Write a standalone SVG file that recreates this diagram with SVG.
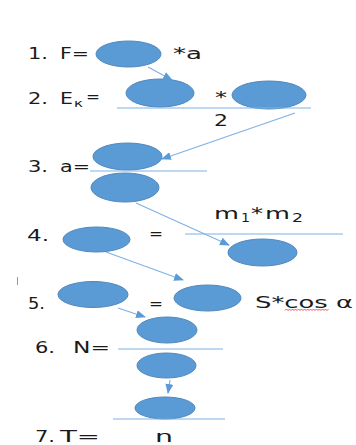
<svg xmlns="http://www.w3.org/2000/svg" width="356" height="445" viewBox="0 0 356 445">
<style>
.t{font-family:"DejaVu Sans",Verdana,sans-serif;font-size:15px;fill:#1a1a1a}
.s{font-size:11px}
.e{fill:#5B9BD5;stroke:#4F88BE;stroke-width:1}
.l{stroke:#7FB2E5;stroke-width:1.2;fill:none}
.a{stroke:#7FB2E5;stroke-width:1.2;fill:none;marker-end:url(#ah)}
</style>
<defs>
<marker id="ah" markerWidth="10" markerHeight="8" refX="9" refY="4" orient="auto" markerUnits="userSpaceOnUse">
<path d="M0,0 L10,4 L0,8 z" fill="#5B9BD5"/>
</marker>
</defs>
<rect width="356" height="445" fill="#fff"/>

<g id="row1">
<text class="t" x="28" y="59" textLength="20" lengthAdjust="spacingAndGlyphs">1.</text>
<text class="t" x="60" y="59" textLength="29" lengthAdjust="spacingAndGlyphs">F=</text>
<ellipse id="n1" class="e" cx="128.5" cy="54" rx="32.5" ry="13"/>
<text class="t" x="173" y="59" textLength="29" lengthAdjust="spacingAndGlyphs">*a</text>
</g>

<g id="row2">
<text class="t" x="28" y="104" textLength="20" lengthAdjust="spacingAndGlyphs">2.</text>
<text class="t" x="60" y="104" textLength="13" lengthAdjust="spacingAndGlyphs">E</text>
<text class="t s" x="74" y="107" textLength="9" lengthAdjust="spacingAndGlyphs">к</text>
<text class="t" x="86" y="102" textLength="14" lengthAdjust="spacingAndGlyphs">=</text>
<ellipse id="n2a" class="e" cx="160" cy="93" rx="34" ry="14"/>
<text class="t" x="215" y="103" textLength="12" lengthAdjust="spacingAndGlyphs">*</text>
<ellipse id="n2b" class="e" cx="269" cy="95" rx="37" ry="14"/>
<line class="l" x1="117" y1="108" x2="311" y2="108"/>
<text class="t" x="214" y="126" textLength="14" lengthAdjust="spacingAndGlyphs">2</text>
</g>

<g id="row3">
<text class="t" x="28" y="172" textLength="20" lengthAdjust="spacingAndGlyphs">3.</text>
<text class="t" x="60" y="172" textLength="30" lengthAdjust="spacingAndGlyphs">a=</text>
<ellipse id="n3a" class="e" cx="127.5" cy="156.5" rx="34.5" ry="13.5"/>
<line class="l" x1="90" y1="171" x2="207" y2="171"/>
<ellipse id="n3b" class="e" cx="125" cy="187.5" rx="34" ry="14.5"/>
</g>

<g id="row4">
<text class="t" x="214" y="219" textLength="25" lengthAdjust="spacingAndGlyphs">m</text>
<text class="t" x="241" y="222" style="font-size:12px" textLength="9" lengthAdjust="spacingAndGlyphs">1</text>
<text class="t" x="251" y="219" textLength="12" lengthAdjust="spacingAndGlyphs">*</text>
<text class="t" x="265" y="219" textLength="25" lengthAdjust="spacingAndGlyphs">m</text>
<text class="t" x="292" y="222" style="font-size:12px" textLength="11" lengthAdjust="spacingAndGlyphs">2</text>
<text class="t" x="27" y="241" textLength="22" lengthAdjust="spacingAndGlyphs">4.</text>
<ellipse id="n4a" class="e" cx="96.5" cy="239.5" rx="33.5" ry="12.5"/>
<text class="t" x="149" y="239" textLength="14" lengthAdjust="spacingAndGlyphs">=</text>
<line class="l" x1="185" y1="234" x2="343" y2="234"/>
<ellipse id="n4b" class="e" cx="262.5" cy="252.5" rx="34.5" ry="13.5"/>
</g>

<line x1="17.5" y1="277" x2="17.5" y2="285" stroke="#999" stroke-width="1"/>

<g id="row5">
<text class="t" x="28" y="309" textLength="17" lengthAdjust="spacingAndGlyphs">5.</text>
<ellipse id="n5a" class="e" cx="93" cy="294.5" rx="35" ry="13"/>
<text class="t" x="149" y="309" textLength="14" lengthAdjust="spacingAndGlyphs">=</text>
<ellipse id="n5b" class="e" cx="207.5" cy="298" rx="33.5" ry="13"/>
<text class="t" x="255" y="308" textLength="98" lengthAdjust="spacingAndGlyphs">S*cos α</text>
<path d="M285,310.5 l1.5,-1.5 l1.5,1.5 l1.5,-1.5 l1.5,1.5 l1.5,-1.5 l1.5,1.5 l1.5,-1.5 l1.5,1.5 l1.5,-1.5 l1.5,1.5 l1.5,-1.5 l1.5,1.5 l1.5,-1.5 l1.5,1.5 l1.5,-1.5 l1.5,1.5 l1.5,-1.5 l1.5,1.5 l1.5,-1.5 l1.5,1.5 l1.5,-1.5 l1.5,1.5 l1.5,-1.5 l1.5,1.5 l1.5,-1.5 l1.5,1.5 l1.5,-1.5 l1.5,1.5 l1.5,-1.5" fill="none" stroke="#e03030" stroke-width="0.8"/>
</g>

<g id="row6">
<ellipse id="n6a" class="e" cx="167" cy="330" rx="30" ry="13"/>
<text class="t" x="35" y="353" textLength="20" lengthAdjust="spacingAndGlyphs">6.</text>
<text class="t" x="73" y="353" textLength="37" lengthAdjust="spacingAndGlyphs">N=</text>
<line class="l" x1="118" y1="349" x2="223" y2="349"/>
<ellipse id="n6b" class="e" cx="166.5" cy="365.5" rx="29.5" ry="12.5"/>
</g>

<g id="row7">
<ellipse id="n7a" class="e" cx="165" cy="408" rx="30" ry="11"/>
<line class="l" x1="113" y1="419" x2="225" y2="419"/>
<text class="t" x="35" y="442" textLength="20" lengthAdjust="spacingAndGlyphs">7.</text>
<text class="t" x="60" y="442" textLength="40" lengthAdjust="spacingAndGlyphs">T=</text>
<text class="t" x="155" y="442" textLength="18" lengthAdjust="spacingAndGlyphs">n</text>
</g>

<g id="connectors">
<line class="a" x1="148" y1="67" x2="172" y2="80"/>
<line class="a" x1="295" y1="113" x2="162" y2="159"/>
<line class="a" x1="136" y1="203" x2="229" y2="245"/>
<line class="a" x1="106" y1="252" x2="183" y2="280"/>
<line class="a" x1="118" y1="308" x2="145" y2="317"/>
<line class="a" x1="170" y1="380" x2="168" y2="393"/>
</g>
</svg>
